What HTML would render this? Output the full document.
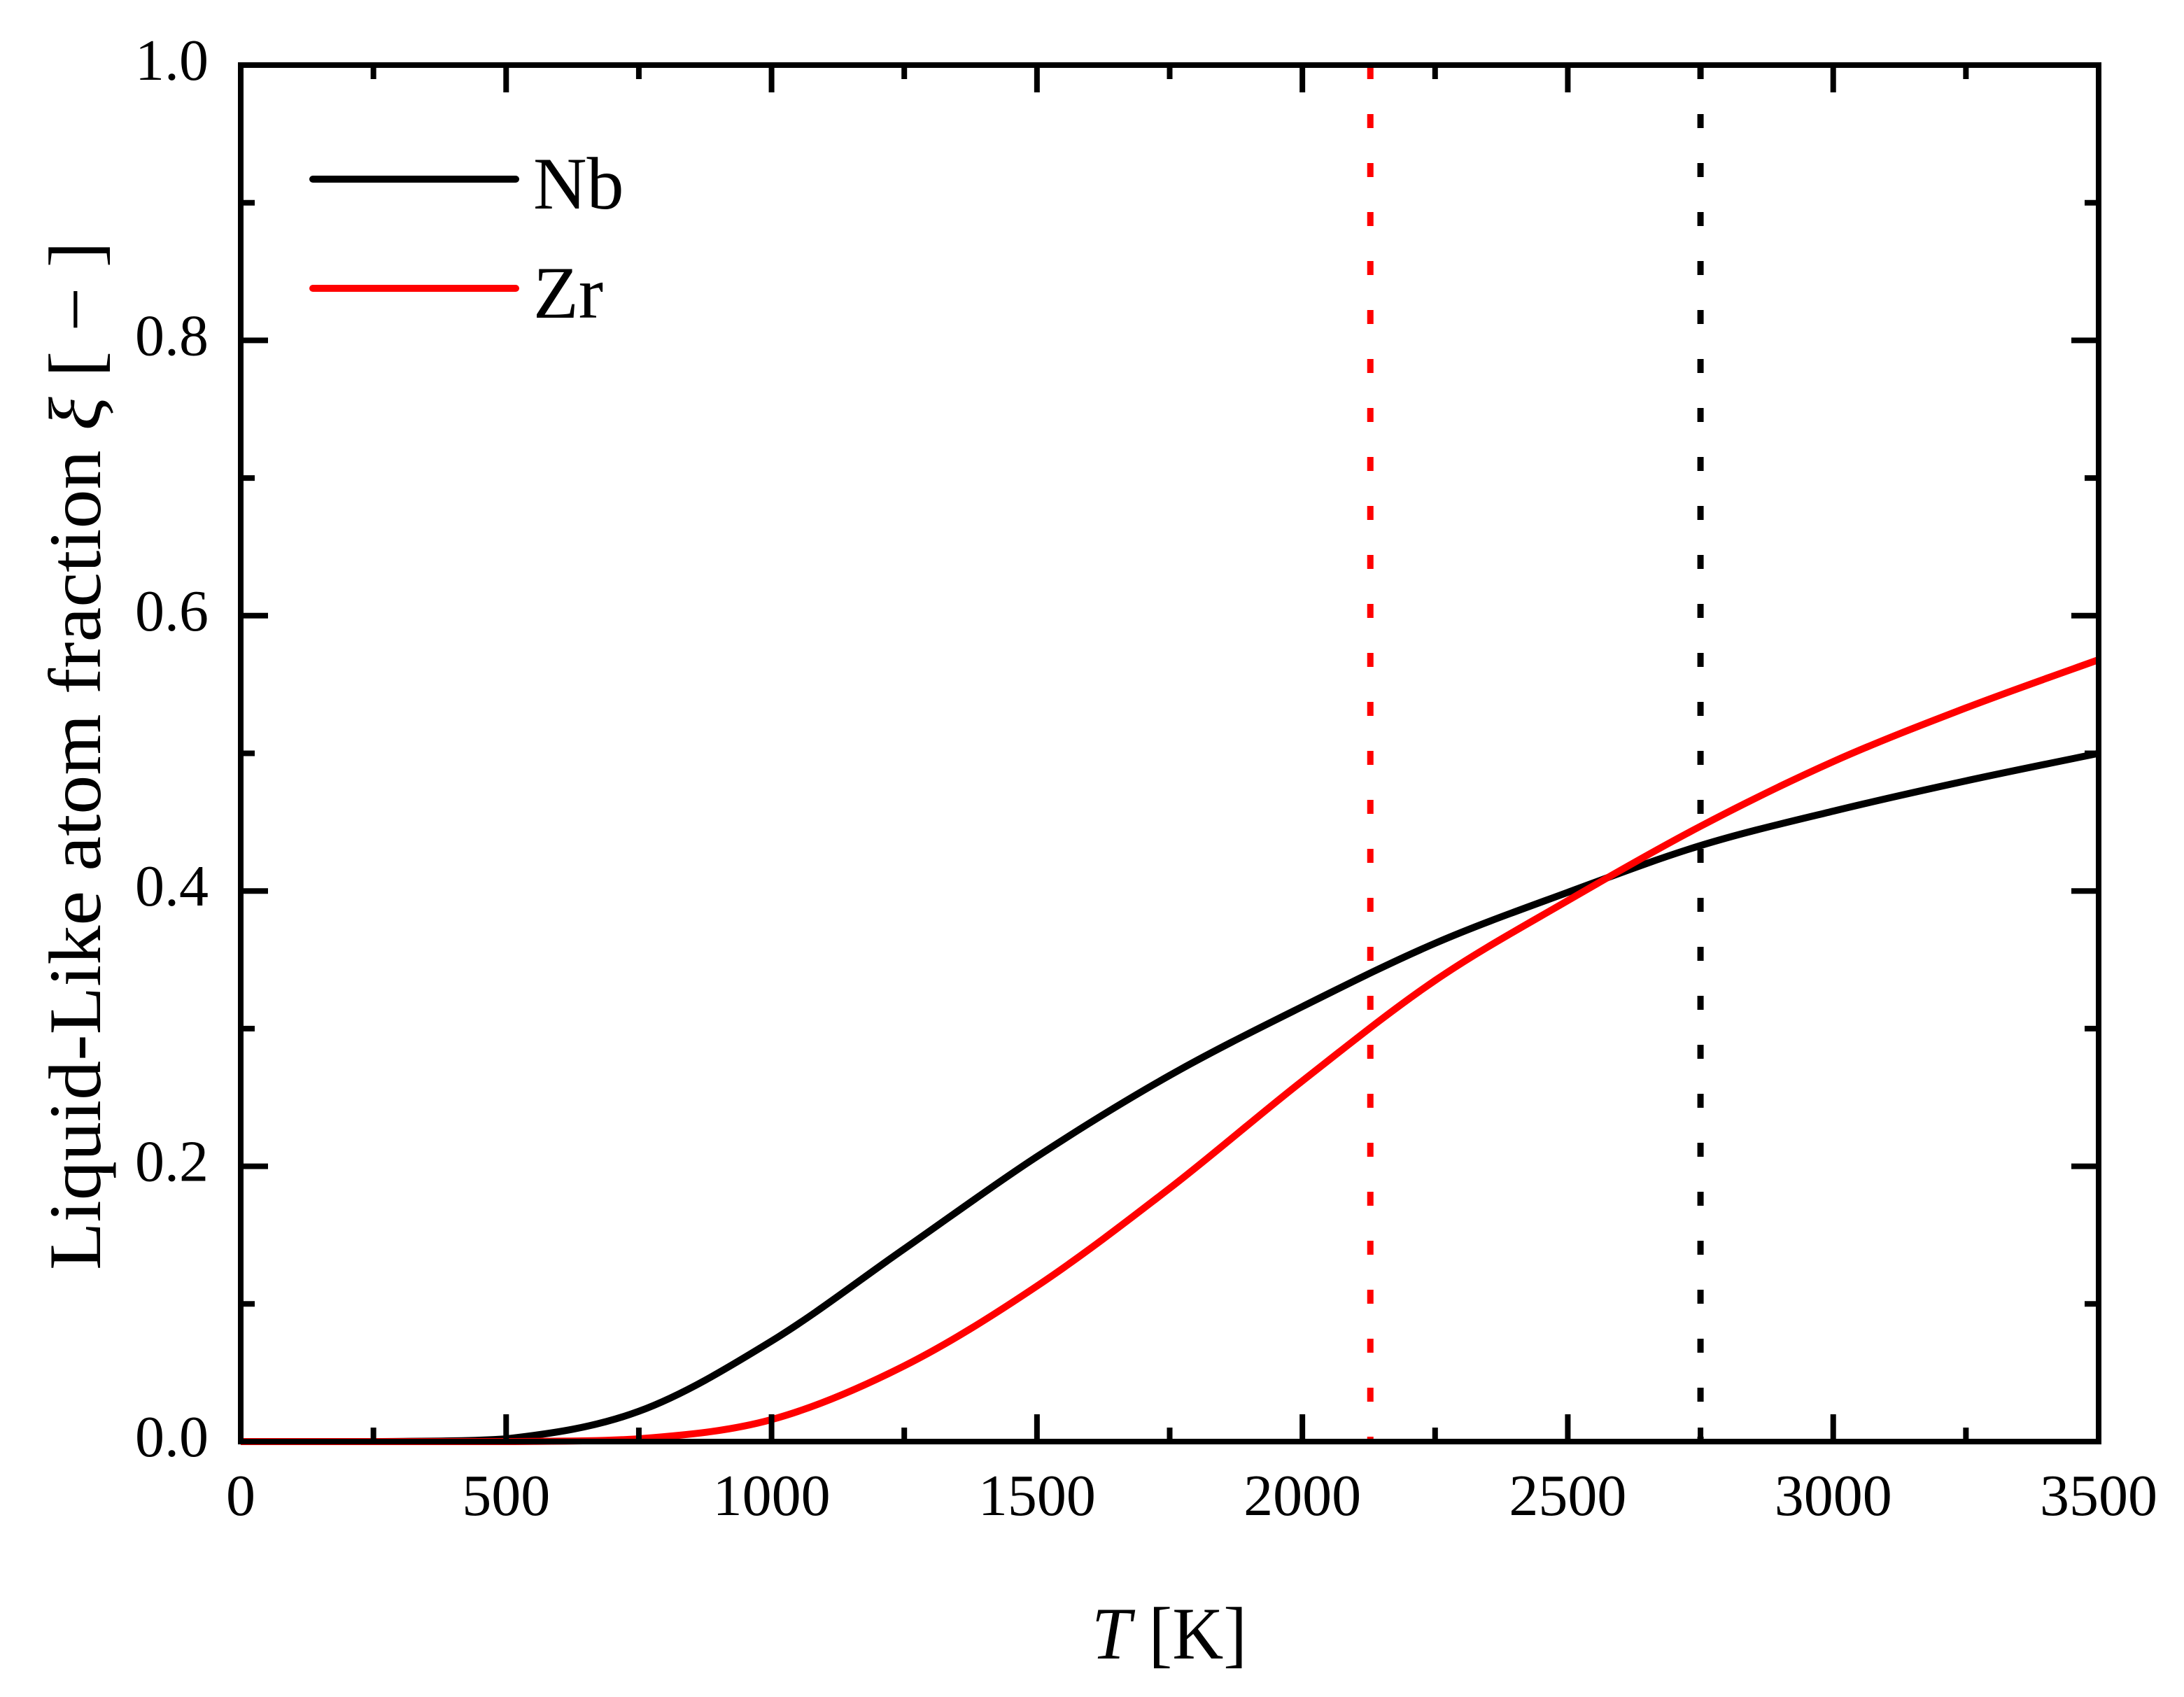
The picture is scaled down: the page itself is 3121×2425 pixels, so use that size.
<!DOCTYPE html>
<html><head><meta charset="utf-8"><style>html,body{margin:0;padding:0;background:#fff}svg{display:block}text{font-family:"Liberation Serif",serif;fill:#000}</style></head>
<body>
<svg id="chart" width="3121" height="2425" viewBox="0 0 3121 2425" xmlns="http://www.w3.org/2000/svg">
<g id="marks"></g>
<g id="axes"></g>
<g>
<line x1="447" y1="256" x2="737" y2="256" stroke="#000" stroke-width="10" stroke-linecap="round"/>
<text x="762" y="298" font-size="106">Nb</text>
<line x1="447" y1="412" x2="737" y2="412" stroke="#f00" stroke-width="10" stroke-linecap="round"/>
<text x="762" y="454" font-size="106">Zr</text>
</g>
<text x="1560" y="2370" font-size="106" textLength="222" lengthAdjust="spacingAndGlyphs"><tspan font-style="italic">T</tspan> [K]</text>
<text transform="translate(143,1080) rotate(-90)" text-anchor="middle" font-size="106" textLength="1470" lengthAdjust="spacingAndGlyphs">Liquid-Like atom fraction <tspan font-style="italic">ξ</tspan> [ − ]</text>
</svg>
<script>
const temps = [0, 250, 500, 750, 1000, 1250, 1500, 1750, 2000, 2250, 2500, 2750, 3000, 3250, 3500];
const nbValues = [0, 0, 0.002, 0.022, 0.073, 0.14, 0.207, 0.266, 0.316, 0.362, 0.399, 0.433, 0.458, 0.480, 0.50];
const zrValues = [0, 0, 0, 0.002, 0.016, 0.055, 0.113, 0.184, 0.262, 0.335, 0.393, 0.447, 0.494, 0.533, 0.568];
const meltTemps = [2128, 2750];
const xTicks = [0, 500, 1000, 1500, 2000, 2500, 3000, 3500];
const yTicks = [0, 0.2, 0.4, 0.6, 0.8, 1.0];
const yTickLabels = ["0.0", "0.2", "0.4", "0.6", "0.8", "1.0"];

const X0 = 344, X1 = 2999, Y0 = 2060, Y1 = 93;
const xs = t => X0 + (t / 3500) * (X1 - X0);
const ys = v => Y0 - v * (Y0 - Y1);
const NS = "http://www.w3.org/2000/svg";
const marks = document.getElementById('marks');
const axes = document.getElementById('axes');
function mk(tag, attrs, parent) { const e = document.createElementNS(NS, tag); for (const k in attrs) e.setAttribute(k, attrs[k]); parent.appendChild(e); return e; }

function pathFor(tx, vals) {
  const p = tx.map((t, i) => [xs(t), ys(vals[i])]);
  let d = `M${p[0][0]},${p[0][1]}`;
  for (let i = 0; i < p.length - 1; i++) {
    const a = p[Math.max(0, i - 1)], b = p[i], c = p[i + 1], e = p[Math.min(p.length - 1, i + 2)];
    const c1 = [b[0] + (c[0] - a[0]) / 6, Math.min(Y0, b[1] + (c[1] - a[1]) / 6)];
    const c2 = [c[0] - (e[0] - b[0]) / 6, Math.min(Y0, c[1] - (e[1] - b[1]) / 6)];
    d += ` C${c1[0]},${c1[1]} ${c2[0]},${c2[1]} ${c[0]},${c[1]}`;
  }
  return d;
}

const meltColors = ['#f00', '#000'];
meltTemps.forEach((t, i) => {
  const l = mk('line', { x1: xs(t), x2: xs(t), y1: Y1, y2: Y0, stroke: meltColors[i], 'stroke-width': 9, 'stroke-dasharray': '20 50' }, marks);
  
  
});
const nb = mk('path', { d: pathFor(temps, nbValues), fill: 'none', stroke: '#000', 'stroke-width': 10 }, marks);


const zr = mk('path', { d: pathFor(temps, zrValues), fill: 'none', stroke: '#f00', 'stroke-width': 10 }, marks);



const frame = mk('rect', { x: X0, y: Y1, width: X1 - X0, height: Y0 - Y1, fill: 'none', stroke: '#000', 'stroke-width': 8 }, axes);



for (let t = 0; t <= 3500; t += 250) {
  const major = t % 500 === 0, len = major ? 39 : 20;
  const a = mk('line', { x1: xs(t), x2: xs(t), y1: Y0, y2: Y0 - len, stroke: '#000', 'stroke-width': 8 }, axes);
  
  
  const b = mk('line', { x1: xs(t), x2: xs(t), y1: Y1, y2: Y1 + len, stroke: '#000', 'stroke-width': 8 }, axes);
  
  
}
for (let k = 0; k <= 10; k++) {
  const v = k / 10, major = k % 2 === 0, len = major ? 39 : 20;
  const a = mk('line', { x1: X0, x2: X0 + len, y1: ys(v), y2: ys(v), stroke: '#000', 'stroke-width': 8 }, axes);
  
  
  const b = mk('line', { x1: X1, x2: X1 - len, y1: ys(v), y2: ys(v), stroke: '#000', 'stroke-width': 8 }, axes);
  
  
}
xTicks.forEach(t => {
  const e = mk('text', { x: xs(t), y: 2165, 'text-anchor': 'middle', 'font-size': 84 }, axes);
  e.textContent = String(t);
  
  
});
yTicks.forEach((v, i) => {
  const e = mk('text', { x: 298, y: ys(v) + 21, 'text-anchor': 'end', 'font-size': 84 }, axes);
  e.textContent = yTickLabels[i];
  
  
});
</script>
</body></html>
